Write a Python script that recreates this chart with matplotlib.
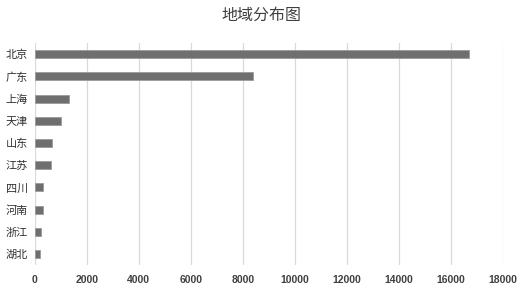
import matplotlib
matplotlib.use("Agg")
import matplotlib.pyplot as plt

plt.rcParams['font.family'] = ['Noto Sans CJK SC', 'DejaVu Sans']

regions = ["北京", "广东", "上海", "天津", "山东", "江苏", "四川", "河南", "浙江", "湖北"]
counts = [16700, 8400, 1300, 1020, 650, 630, 310, 310, 230, 210]
x_ticks = [0, 2000, 4000, 6000, 8000, 10000, 12000, 14000, 16000, 18000]

fig = plt.figure(figsize=(5.18, 2.91), dpi=100)
ax = fig.add_axes([0.067, 0.089, 0.9035, 0.763])

y = list(range(len(regions)))
ax.barh(y, counts, height=0.36, color="#6f6f6f", edgecolor="#9a9a9a", linewidth=0.6, zorder=3)

ax.set_ylim(len(regions) - 0.5, -0.5)
ax.set_xlim(0, 18000)
ax.set_xticks(x_ticks)
ax.set_xticklabels([str(t) for t in x_ticks], fontsize=7.5, fontweight="bold", color="#404040",
                   family=["Liberation Sans"])
ax.set_yticks(y)
ax.set_yticklabels(regions, fontsize=8, color="#303030", fontweight="medium")

ax.grid(axis="x", color="#d9d9d9", linewidth=0.9, zorder=0)
for s in ax.spines.values():
    s.set_visible(False)
ax.tick_params(axis="both", length=0)
ax.tick_params(axis="x", pad=7)
ax.tick_params(axis="y", pad=5)

fig.suptitle("地域分布图", x=0.505, y=0.975, fontsize=11.5, color="#404040")

fig.savefig("out.png", dpi=100)
